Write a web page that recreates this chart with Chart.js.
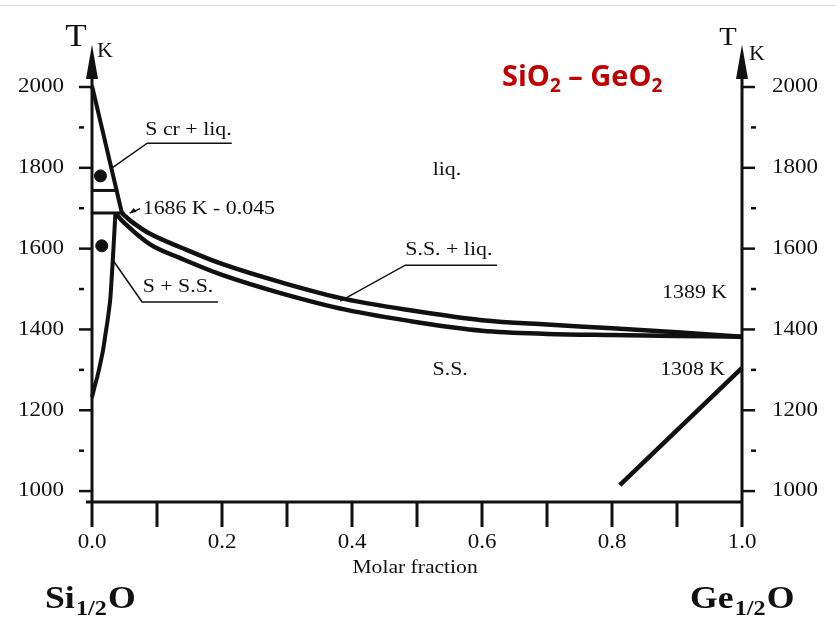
<!DOCTYPE html>
<html>
<head>
<meta charset="utf-8">
<script src="https://cdn.jsdelivr.net/npm/chart.js@4.4.1/dist/chart.umd.min.js"></script>
<style>
  body { margin: 0; background: #fff; }
  #wrap { width: 836px; height: 627px; position: relative; }
</style>
</head>
<body>
<div id="wrap"><canvas id="myChart" width="836" height="627"></canvas></div>
<script>
// axis ticks
var xTicks = [0.0, 0.2, 0.4, 0.6, 0.8, 1.0];
var xMinorTicks = [0.1, 0.3, 0.5, 0.7, 0.9];
var yTicks = [1000, 1200, 1400, 1600, 1800, 2000];
var yMinorTicks = [1100, 1300, 1500, 1700, 1900];

// S cr liquidus (steep line from pure SiO2)
var sLiqX = [0.0, 0.046];
var sLiqT = [2003, 1688];
// horizontal lines near SiO2 side
var upperLineX = [0.0, 0.037];
var upperLineT = [1744, 1744];
var eutLineX = [0.0, 0.05];
var eutLineT = [1688, 1688];
// S + S.S. boundary
var sSolX = [0.036, 0.033, 0.030, 0.028, 0.024, 0.021, 0.017, 0.012, 0.008, 0.004, 0.0];
var sSolT = [1688, 1600, 1520, 1473, 1423, 1391, 1349, 1310, 1282, 1258, 1232];
// S.S. liquidus / solidus
var liqX = [0.046, 0.06, 0.09, 0.135, 0.2, 0.29, 0.39, 0.5, 0.6, 0.7, 0.8, 0.9, 1.0];
var liqT = [1688, 1668, 1636, 1604, 1562, 1517, 1475, 1445, 1423, 1412, 1403, 1393, 1382];
var solX = [0.036, 0.05, 0.09, 0.135, 0.2, 0.29, 0.39, 0.5, 0.6, 0.7, 0.8, 0.9, 1.0];
var solT = [1688, 1663, 1610, 1577, 1535, 1490, 1449, 1418, 1397, 1389, 1386, 1384, 1382];
// GeO2 side line
var geX = [0.812, 1.0];
var geT = [1015, 1305];
// dots
var dotX = [0.013, 0.015];
var dotT = [1780, 1607];

function pts(xs, ts) {
    return xs.map(function (v, i) { return { x: v, y: ts[i] }; });
}

var serif = '"Liberation Serif", "DejaVu Serif", serif';

function txt(ctx, s, x, y, size, align, bold, sx) {
    ctx.save();
    ctx.font = (bold ? 'bold ' : '') + size + 'px ' + serif;
    ctx.textBaseline = 'middle';
    ctx.textAlign = align;
    ctx.fillStyle = '#111';
    ctx.translate(x, y);
    ctx.scale(sx || 1.15, 1);
    ctx.fillText(s, 0, 0);
    ctx.restore();
}

function line(ctx, pts2, w) {
    ctx.save();
    ctx.strokeStyle = '#111';
    ctx.lineWidth = w;
    ctx.beginPath();
    pts2.forEach(function (p, i) {
        if (i === 0) ctx.moveTo(p[0], p[1]); else ctx.lineTo(p[0], p[1]);
    });
    ctx.stroke();
    ctx.restore();
}

var axesPlugin = {
    id: 'axesPlugin',
    beforeDatasetsDraw: function (chart) {
        var ctx = chart.ctx;
        var xs = chart.scales.x, ys = chart.scales.y;
        var x0 = xs.getPixelForValue(0), x1 = xs.getPixelForValue(1);
        var yb = ys.getPixelForValue(ys.min);
        var tip = ys.getPixelForValue(2105), base = ys.getPixelForValue(2030);

        ctx.save();
        // top border line
        ctx.strokeStyle = '#d9d9d9';
        ctx.lineWidth = 1;
        ctx.beginPath(); ctx.moveTo(0, 5.5); ctx.lineTo(836, 5.5); ctx.stroke();
        ctx.restore();

        // axes
        line(ctx, [[x0 - 6, yb], [x1, yb]], 3);
        line(ctx, [[x0, yb], [x0, base]], 3);
        line(ctx, [[x1, yb], [x1, base]], 3);
        [x0, x1].forEach(function (ax) {
            ctx.save();
            ctx.fillStyle = '#111';
            ctx.beginPath();
            ctx.moveTo(ax, tip);
            ctx.lineTo(ax + 6, base + 4);
            ctx.lineTo(ax - 6, base + 4);
            ctx.closePath();
            ctx.fill();
            ctx.restore();
        });

        // y ticks
        yTicks.forEach(function (t) {
            var p = ys.getPixelForValue(t);
            line(ctx, [[x0 - 13, p], [x0, p]], 2.5);
            line(ctx, [[x1, p], [x1 + 13, p]], 2.5);
            txt(ctx, String(t), x0 - 28, p, 20, 'right');
            txt(ctx, String(t), x1 + 30, p, 20, 'left');
        });
        yMinorTicks.forEach(function (t) {
            var p = ys.getPixelForValue(t);
            line(ctx, [[x0 - 13, p], [x0 - 8, p]], 2.5);
            line(ctx, [[x1 + 9, p], [x1 + 14, p]], 2.5);
        });
        // x ticks
        xTicks.concat(xMinorTicks).forEach(function (v) {
            var p = xs.getPixelForValue(v);
            line(ctx, [[p, yb], [p, yb + 25]], 3);
        });
        xTicks.forEach(function (v) {
            txt(ctx, v.toFixed(1), xs.getPixelForValue(v), yb + 41, 20, 'center');
        });
    },
    afterDraw: function (chart) {
        var ctx = chart.ctx;
        var xs = chart.scales.x, ys = chart.scales.y;
        function P(xv, tv) { return [xs.getPixelForValue(xv), ys.getPixelForValue(tv)]; }
        var x0 = xs.getPixelForValue(0), x1 = xs.getPixelForValue(1);
        var yb = ys.getPixelForValue(ys.min);

        // T K labels
        txt(ctx, 'T', x0 - 16, ys.getPixelForValue(2123), 32, 'center', false, 1.1);
        txt(ctx, 'K', x0 + 13, ys.getPixelForValue(2087), 20, 'center', false, 1.1);
        txt(ctx, 'T', x1 - 14, ys.getPixelForValue(2120), 26, 'center', false, 1.1);
        txt(ctx, 'K', x1 + 15, ys.getPixelForValue(2080), 20, 'center', false, 1.1);

        // region labels
        var a, b;
        a = P(0.082, 1894); txt(ctx, 'S cr + liq.', a[0], a[1], 19, 'left');
        line(ctx, [P(0.031, 1800), P(0.085, 1861), P(0.215, 1861)], 1.5);

        a = P(0.078, 1698); txt(ctx, '1686 K - 0.045', a[0], a[1], 19, 'left');
        a = P(0.074, 1699); b = P(0.058, 1688);
        line(ctx, [a, b], 1.5);
        ctx.save();
        ctx.fillStyle = '#111';
        ctx.beginPath();
        ctx.moveTo(b[0], b[1]);
        ctx.lineTo(b[0] + 7, b[1] - 1);
        ctx.lineTo(b[0] + 4, b[1] - 5);
        ctx.closePath();
        ctx.fill();
        ctx.restore();

        a = P(0.078, 1505); txt(ctx, 'S + S.S.', a[0], a[1], 19, 'left');
        line(ctx, [P(0.032, 1572), P(0.077, 1468), P(0.194, 1468)], 1.5);

        a = P(0.546, 1795); txt(ctx, 'liq.', a[0], a[1], 19, 'center');
        a = P(0.549, 1597); txt(ctx, 'S.S. + liq.', a[0], a[1], 19, 'center');
        line(ctx, [P(0.382, 1470), P(0.482, 1559), P(0.623, 1559)], 1.5);
        a = P(0.551, 1300); txt(ctx, 'S.S.', a[0], a[1], 19, 'center');
        a = P(0.977, 1490); txt(ctx, '1389 K', a[0], a[1], 19, 'right');
        a = P(0.974, 1300); txt(ctx, '1308 K', a[0], a[1], 19, 'right');

        // axis title
        txt(ctx, 'Molar fraction', xs.getPixelForValue(0.497), yb + 66, 18, 'center', false, 1.2);

        // end members
        function formula(x, y, a1, sub, a2) {
            ctx.save();
            ctx.fillStyle = '#111';
            ctx.textBaseline = 'alphabetic';
            ctx.textAlign = 'left';
            ctx.translate(x, y);
            ctx.scale(1.15, 1);
            ctx.font = 'bold 31px ' + serif;
            ctx.fillText(a1, 0, 0);
            var w = ctx.measureText(a1).width;
            ctx.font = 'bold 21px ' + serif;
            ctx.fillText(sub, w + 1, 7);
            var w2 = ctx.measureText(sub).width;
            ctx.font = 'bold 31px ' + serif;
            ctx.fillText(a2, w + w2 + 2, 0);
            ctx.restore();
        }
        formula(45, 608, 'Si', '1/2', 'O');
        formula(690, 608, 'Ge', '1/2', 'O');

        // red title
        ctx.save();
        ctx.fillStyle = '#c00000';
        ctx.textBaseline = 'alphabetic';
        ctx.textAlign = 'left';
        var sans = '"Open Sans", Lato, sans-serif';
        var tx = 502, ty = 86;
        var parts = [['SiO', 29, 0], ['2', 19, 6], [' \u2013 GeO', 29, 0], ['2', 19, 6]];
        parts.forEach(function (p) {
            ctx.font = '700 ' + p[1] + 'px ' + sans;
            ctx.fillText(p[0], tx, ty + p[2]);
            tx += ctx.measureText(p[0]).width;
        });
        ctx.restore();
    }
};

var ctx = document.getElementById('myChart').getContext('2d');
function ds(xs, ts, w, tension) {
    return {
        data: pts(xs, ts),
        showLine: true,
        borderColor: '#111',
        borderWidth: w,
        pointRadius: 0,
        tension: tension || 0,
        clip: false,
        borderCapStyle: 'butt'
    };
}
var myChart = new Chart(ctx, {
    type: 'scatter',
    data: {
        datasets: [
            ds(sLiqX, sLiqT, 4),
            ds(upperLineX, upperLineT, 3),
            ds(eutLineX, eutLineT, 3),
            ds(sSolX, sSolT, 4, 0.3),
            ds(liqX, liqT, 4.5, 0.35),
            ds(solX, solT, 4.5, 0.35),
            ds(geX, geT, 4.5),
            {
                data: pts(dotX, dotT),
                pointRadius: 6,
                pointBackgroundColor: '#111',
                pointBorderColor: '#111',
                clip: false
            }
        ]
    },
    options: {
        responsive: false,
        animation: false,
        layout: { padding: { left: 92, right: 94, top: 47, bottom: 125 } },
        plugins: {
            legend: { display: false },
            tooltip: { enabled: false }
        },
        scales: {
            x: { type: 'linear', min: 0, max: 1, display: false },
            y: { type: 'linear', min: 973, max: 2099, display: false }
        }
    },
    plugins: [axesPlugin]
});
</script>
</body>
</html>
